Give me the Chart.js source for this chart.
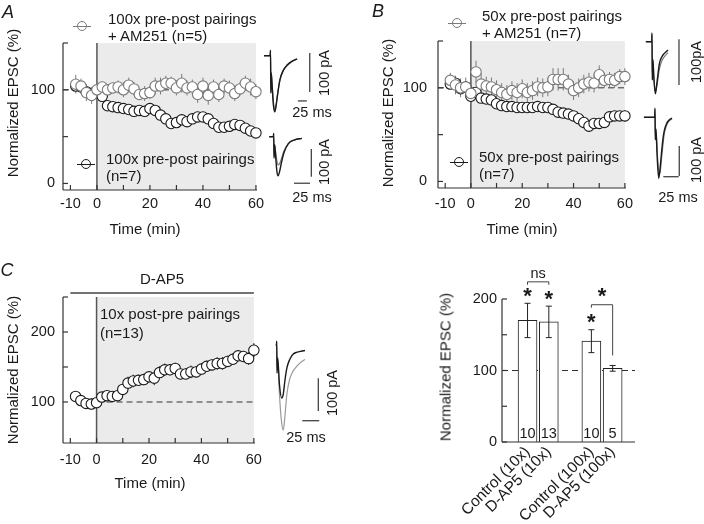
<!DOCTYPE html>
<html>
<head>
<meta charset="utf-8">
<script src="https://cdn.jsdelivr.net/npm/chart.js@4.4.1/dist/chart.umd.min.js"></script>
<style>
  body { margin: 0; background: #fff; }
  #fig { position: relative; width: 704px; height: 524px; overflow: hidden;
         font-family: 'Liberation Sans', Arial, sans-serif; color: #1a1a1a; }
  canvas { position: absolute; }
  .t { position: absolute; font-size: 15px; line-height: 1; white-space: nowrap; }
  .s { font-size: 14.5px; }
  .c { transform: translate(-50%, -50%); }
  .l { transform: translateY(-50%); }
  .v { transform: translate(-50%, -50%) rotate(-90deg); }
  .p { font-size: 18px; font-style: italic; }
  .mk { position: absolute; width: 8px; height: 8px; margin: -5px 0 0 -5px; border: 1px solid;
        border-radius: 50%; background: #fff; }
  .mk:before { content: ''; position: absolute; left: -5px; width: 18px; top: 3.5px; height: 1px; background: currentColor; }
</style>
</head>
<body>
<div id="fig">
  <canvas id="chA" width="270" height="250" style="left:0;top:0"></canvas>
  <canvas id="chB" width="290" height="250" style="left:350px;top:0"></canvas>
  <canvas id="chC" width="270" height="274" style="left:0;top:250px"></canvas>
  <canvas id="chBar" width="304" height="274" style="left:400px;top:250px"></canvas>
  <canvas id="trA1" width="80" height="90" style="left:262px;top:40px"></canvas>
  <canvas id="trA2" width="80" height="85" style="left:262px;top:125px"></canvas>
  <canvas id="trB1" width="68" height="75" style="left:636px;top:28px"></canvas>
  <canvas id="trB2" width="68" height="100" style="left:636px;top:100px"></canvas>
  <canvas id="trC" width="80" height="120" style="left:270px;top:330px"></canvas>

  <div class="t p c" style="left:8px;top:12px">A</div>
  <div class="t p c" style="left:378px;top:11px">B</div>
  <div class="t p c" style="left:7px;top:270px">C</div>

  <span class="mk" style="left:82px;top:26px;color:#7a7a7a"></span>
  <div class="t l" style="left:108px;top:18px">100x pre-post pairings</div>
  <div class="t l" style="left:108px;top:35px">+ AM251 (n=5)</div>
  <span class="mk" style="left:86px;top:164px;color:#1a1a1a"></span>
  <div class="t l" style="left:106px;top:158px">100x pre-post pairings</div>
  <div class="t l" style="left:106px;top:175px">(n=7)</div>

  <span class="mk" style="left:457px;top:23px;color:#7a7a7a"></span>
  <div class="t l" style="left:482px;top:15px">50x pre-post pairings</div>
  <div class="t l" style="left:482px;top:32px">+ AM251 (n=7)</div>
  <span class="mk" style="left:459px;top:162px;color:#1a1a1a"></span>
  <div class="t l" style="left:479px;top:156px">50x pre-post pairings</div>
  <div class="t l" style="left:479px;top:173px">(n=7)</div>

  <div class="t l" style="left:100px;top:313px">10x post-pre pairings</div>
  <div class="t l" style="left:100px;top:332px">(n=13)</div>
  <div class="t c" style="left:162px;top:278px">D-AP5</div>

  <div class="t v" style="left:12px;top:103px">Normalized EPSC (%)</div>
  <div class="t v" style="left:387px;top:113px">Normalized EPSC (%)</div>
  <div class="t v" style="left:12px;top:370px">Normalized EPSC (%)</div>
  <div class="t v" style="left:445px;top:367px">Normalized EPSC (%)</div>
  <div class="t c" style="left:145px;top:228px">Time (min)</div>
  <div class="t c" style="left:522px;top:228px">Time (min)</div>
  <div class="t c" style="left:150px;top:482px">Time (min)</div>

  <div class="t s v" style="left:324px;top:73px">100 pA</div>
  <div class="t s c" style="left:312px;top:112px">25 ms</div>
  <div class="t s v" style="left:324px;top:162px">100 pA</div>
  <div class="t s c" style="left:312px;top:197px">25 ms</div>
  <div class="t s v" style="left:696px;top:62px">100pA</div>
  <div class="t s v" style="left:696px;top:160px">100 pA</div>
  <div class="t s c" style="left:678px;top:197px">25 ms</div>
  <div class="t s v" style="left:332px;top:393px">100 pA</div>
  <div class="t s c" style="left:306px;top:437px">25 ms</div>
</div>

<script>
// time courses, one point every 2 min
const timeMin = [-8, -6, -4, -2, 0, 2, 4, 6, 8, 10, 12, 14, 16, 18, 20, 22, 24, 26, 28, 30,
                 32, 34, 36, 38, 40, 42, 44, 46, 48, 50, 52, 54, 56, 58, 60];

// A: 100x pre-post
const aAm251 = [106, 104, 97, 94, 100, 103, 100, 102, 103, 100, 105, 101, 95, 96, 97, 104, 104, 107, 107, 102,
                107, 102, 103, 95, 104, 94, 103, 95, 104, 102, 96, 101, 107, 103, 98];
const aAm251Err = [10, 8, 9, 9, 6, 6, 6, 5, 7, 8, 8, 7, 6, 8, 7, 9, 9, 8, 7, 8,
                   10, 8, 8, 9, 9, 10, 8, 8, 8, 8, 8, 7, 8, 9, 8];
const aCtrl = [104, 103, 98, 95, 97, 93, 83, 82, 81, 80, 79, 77, 78, 77, 80, 78, 73, 69, 64, 65,
               68, 66, 69, 71, 71, 69, 64, 60, 60, 61, 63, 62, 59, 56, 54];
const aCtrlErr = [4, 4, 4, 5, 4, 4, 3, 3, 3, 3, 3, 3, 3, 3, 3, 3, 4, 4, 4, 4,
                  4, 4, 4, 4, 4, 4, 4, 4, 4, 4, 4, 4, 4, 4, 4];

// B: 50x pre-post
const bAm251 = [108, 103, 100, 101, 94, 117, 104, 102, 101, 98, 95, 93, 97, 95, 99, 95, 97, 101, 100, 101,
                109, 109, 109, 104, 97, 100, 104, 106, 105, 114, 108, 109, 108, 112, 112];
const bAm251Err = [8, 10, 10, 10, 12, 12, 12, 10, 10, 10, 10, 10, 10, 10, 10, 10, 10, 10, 10, 10,
                   12, 12, 12, 10, 10, 10, 10, 10, 10, 10, 8, 8, 8, 8, 9];
const bCtrl = [104, 105, 99, 101, 91, 95, 89, 88, 87, 83, 81, 80, 80, 79, 79, 79, 79, 80, 79, 79,
               77, 74, 73, 72, 70, 67, 63, 59, 62, 62, 63, 69, 70, 70, 70];
const bCtrlErr = [5, 5, 5, 6, 6, 5, 5, 5, 5, 4, 4, 4, 4, 4, 4, 4, 4, 4, 4, 4,
                  4, 4, 4, 4, 4, 4, 4, 4, 4, 5, 5, 5, 5, 5, 6];

// C: 10x post-pre in D-AP5
const cVals = [108, 102, 98, 97, 99, 107, 109, 108, 109, 118, 127, 130, 131, 132, 136, 134, 142, 146, 146, 148,
               140, 140, 143, 143, 147, 151, 153, 155, 155, 158, 161, 166, 165, 162, 174];
const cErr = [5, 5, 7, 8, 6, 5, 6, 6, 6, 7, 9, 9, 8, 8, 8, 10, 9, 9, 8, 8,
              8, 8, 9, 8, 8, 8, 8, 9, 9, 8, 8, 8, 8, 9, 10];

// summary bars
const barGroups = [['Control (10x)', 'D-AP5 (10x)'], ['Control (100x)', 'D-AP5 (100x)']];
const barMeans = [170, 168, 141, 103];
const barErr = [24, 22, 16, 4];
const barN = [10, 13, 10, 5];
const barStars = [0, 1, 2];
const barComparisons = [{ a: 0, b: 1, text: 'ns', y: 224 }, { a: 2, b: 3, text: '*', y: 192 }];

// axis ticks
const xTicks = [-10, 0, 10, 20, 30, 40, 50, 60];
const xTickLabels = ['-10', '0', '', '20', '', '40', '', '60'];
const yTicksAB = [0, 50, 100, 150];
const yTickLabelsAB = ['0', '', '100', ''];
const yTicksC = [100, 150, 200, 250];
const yTickLabelsC = ['100', '', '200', ''];
const yTicksBar = [0, 50, 100, 150, 200];
const yTickLabelsBar = ['0', '', '100', '', '200'];

// example EPSC traces (ms, pA), pre = black, post = gray
const traceTimeA1 = [-18, -1, 0, 1, 2, 4, 8, 12, 15, 20, 26, 35, 46, 58, 74];
const traceA1Pre = [0, 0, 14, -96, -45, -70, -126, -144, -132, -98, -62, -38, -24, -15, -8];
const traceA1Post = [0, 0, 12, -90, -42, -66, -118, -138, -128, -96, -64, -40, -26, -16, -9];
const traceTimeA2 = [-7, -0.5, 0, 0.5, 1.5, 3, 5, 7, 9, 12, 16, 23, 32, 44];
const traceA2Pre = [0, 0, 12, -78, -30, -70, -125, -141, -128, -95, -58, -25, -12, -6];
const traceA2Post = [0, 0, 10, -70, -28, -55, -88, -102, -98, -80, -52, -24, -12, -6];
const traceTimeB1 = [-10, -0.5, 0, 0.5, 1.5, 3, 5.5, 8, 12, 16, 20.5, 26];
const traceB1Pre = [0, 0, 19, -84, -40, -80, -114, -90, -48, -33, -25, -18];
const traceB1Post = [0, 0, 15, -80, -38, -76, -110, -96, -60, -42, -32, -24];
const traceTimeB2 = [-18, -0.5, 0, 0.5, 1.5, 3.5, 6, 8, 10.5, 13, 15, 19, 23, 27.6];
const traceB2Pre = [0, 0, 30, -75, -40, -130, -203, -175, -120, -70, -45, -20, -9, -3];
const traceB2Post = [0, 0, 25, -70, -38, -110, -180, -187, -140, -90, -55, -26, -12, -5];
const traceTimeC = [-1.5, -0.3, 0, 0.5, 1.5, 4, 7.4, 9.7, 12, 15, 19, 24, 30, 36, 41.6];
const traceCPre = [0, 0, 12, -86, -40, -120, -162, -150, -110, -70, -45, -28, -22, -19, -17];
const traceCPost = [0, 0, 10, -80, -38, -150, -240, -260, -220, -150, -105, -80, -64, -52, -44];
const scaleBarPA = 100;
const scaleBarMs = 25;

const FONT = "'Liberation Sans', Arial, sans-serif";
Chart.defaults.font.family = FONT;
Chart.defaults.font.size = 14.5;
Chart.defaults.color = '#1a1a1a';
Chart.defaults.animation = false;
Chart.defaults.events = [];
Chart.defaults.plugins.legend.display = false;
Chart.defaults.plugins.tooltip.enabled = false;

const seg = (ctx, x0, y0, x1, y1) => {
  ctx.beginPath(); ctx.moveTo(x0, y0); ctx.lineTo(x1, y1); ctx.stroke();
};

const star = (ctx, x, y) => {
  ctx.save();
  ctx.font = 'bold 22px ' + FONT;
  ctx.textAlign = 'center';
  ctx.textBaseline = 'alphabetic';
  const m = ctx.measureText('*');
  ctx.fillText('*', x, y + (m.actualBoundingBoxAscent - m.actualBoundingBoxDescent) / 2);
  ctx.restore();
};

// shading, reference line, error bars, inward ticks
const decoPlugin = {
  id: 'deco',
  beforeDatasetsDraw(chart, args, o) {
    const { ctx, chartArea: a, scales: { x, y } } = chart;
    ctx.save();
    if (o.shade) {
      const x0 = x.getPixelForValue(o.shade[0]), x1 = x.getPixelForValue(o.shade[1]);
      ctx.fillStyle = '#ebebeb';
      ctx.fillRect(x0, a.top, x1 - x0, a.bottom - a.top);
      ctx.strokeStyle = '#555'; ctx.lineWidth = 1.5;
      seg(ctx, x0, a.top, x0, a.bottom);
    }
    if (o.ref !== undefined) {
      const py = y.getPixelForValue(o.ref);
      ctx.setLineDash([6, 4]); ctx.strokeStyle = '#333'; ctx.lineWidth = 1;
      seg(ctx, o.refFrom !== undefined ? x.getPixelForValue(o.refFrom) : a.left, py, a.right, py);
      ctx.setLineDash([]);
    }
    if (o.drug) {
      ctx.strokeStyle = '#444'; ctx.lineWidth = 1.5;
      seg(ctx, x.getPixelForValue(o.drug[0]), a.top - 4, x.getPixelForValue(o.drug[1]), a.top - 4);
    }
    chart.data.datasets.forEach((ds, i) => {
      if (!ds.err) return;
      ctx.strokeStyle = ds.pointBorderColor; ctx.lineWidth = 1;
      chart.getDatasetMeta(i).data.forEach((el, j) => {
        const v = ds.data[j].y, e = ds.err[j];
        seg(ctx, el.x, y.getPixelForValue(v + e), el.x, y.getPixelForValue(v - e));
      });
    });
    ctx.restore();
  },
  afterDraw(chart, args, o) {
    const { ctx, chartArea: a, scales: { x, y } } = chart;
    ctx.save();
    ctx.strokeStyle = '#333'; ctx.lineWidth = 1.2;
    seg(ctx, a.left, a.top, a.left, a.bottom);
    seg(ctx, a.left, a.bottom, a.right, a.bottom);
    if (!o.noXTicks) {
      x.ticks.forEach(t => { const px = x.getPixelForValue(t.value); seg(ctx, px, a.bottom, px, a.bottom - 5); });
    }
    y.ticks.forEach(t => { const py = y.getPixelForValue(t.value); seg(ctx, a.left, py, a.left + 5, py); });
    ctx.restore();
  }
};

const barDeco = {
  id: 'barDeco',
  afterDatasetsDraw(chart) {
    const { ctx, chartArea: a, scales: { y } } = chart;
    const bars = chart.getDatasetMeta(0).data;
    const errTop = j => y.getPixelForValue(barMeans[j] + barErr[j]);
    ctx.save();
    ctx.strokeStyle = '#222'; ctx.lineWidth = 1;
    bars.forEach((b, j) => {
      const t = errTop(j), bt = y.getPixelForValue(barMeans[j] - barErr[j]);
      seg(ctx, b.x, t, b.x, bt);
      seg(ctx, b.x - 3, t, b.x + 3, t);
      seg(ctx, b.x - 3, bt, b.x + 3, bt);
    });
    ctx.fillStyle = '#1a1a1a';
    ctx.font = '14.5px ' + FONT;
    ctx.textAlign = 'center'; ctx.textBaseline = 'middle';
    bars.forEach((b, j) => ctx.fillText(String(barN[j]), b.x, a.bottom - 8));
    barStars.forEach(j => star(ctx, bars[j].x, errTop(j) - 11));
    ctx.strokeStyle = '#444';
    barComparisons.forEach(c => {
      const xa = bars[c.a].x, xb = bars[c.b].x, py = y.getPixelForValue(c.y);
      const legB = barStars.includes(c.b) ? py + 3 : errTop(c.b) - 10;
      ctx.beginPath();
      ctx.moveTo(xa, py + 3); ctx.lineTo(xa, py); ctx.lineTo(xb, py); ctx.lineTo(xb, legB);
      ctx.stroke();
      if (c.text === '*') star(ctx, (xa + xb) / 2, py - 12);
      else ctx.fillText(c.text, (xa + xb) / 2, py - 8);
    });
    ctx.restore();
  }
};

const scaleBars = {
  id: 'scaleBars',
  afterDatasetsDraw(chart, args, o) {
    const { ctx, scales: { x, y } } = chart;
    ctx.save();
    ctx.strokeStyle = '#444'; ctx.lineWidth = 1.3;
    if (o.v) {
      const px = x.getPixelForValue(o.v[0]);
      seg(ctx, px, y.getPixelForValue(o.v[1]), px, y.getPixelForValue(o.v[1] - scaleBarPA));
    }
    if (o.h) {
      const py = y.getPixelForValue(o.h[1]);
      seg(ctx, x.getPixelForValue(o.h[0] - scaleBarMs), py, x.getPixelForValue(o.h[0]), py);
    }
    ctx.restore();
  }
};

const fixedTicks = (vals, labels, extra) => Object.assign({
  afterBuildTicks: s => { s.ticks = vals.map(v => ({ value: v })); },
  ticks: { callback: v => labels[vals.indexOf(v)], autoSkip: false, maxRotation: 0 },
  grid: { display: false, drawTicks: false },
  border: { display: false }
}, extra);

function timeCourse(id, geo, sets, yRange, yVals, yLabels, deco) {
  const xs = fixedTicks(xTicks, xTickLabels, { type: 'linear', min: -12.8, max: 60.4,
    afterFit: s => { s.height = geo.xh; } });
  xs.ticks.padding = geo.xpad;
  const ys = fixedTicks(yVals, yLabels, { type: 'linear', min: yRange[0], max: yRange[1],
    afterFit: s => { s.width = geo.yw; } });
  ys.ticks.padding = geo.ypad;
  return new Chart(document.getElementById(id), {
    type: 'line',
    data: {
      datasets: sets.map(s => ({
        data: timeMin.map((t, i) => ({ x: t, y: s.values[i] })),
        err: s.err,
        showLine: false,
        pointRadius: 5.2,
        pointHoverRadius: 5.2,
        pointBackgroundColor: '#fff',
        pointBorderColor: s.color,
        pointBorderWidth: 1.1,
        clip: false
      }))
    },
    options: {
      responsive: false,
      layout: { padding: { top: geo.top, right: geo.right, left: 0, bottom: 0 } },
      scales: { x: xs, y: ys },
      plugins: { deco }
    },
    plugins: [decoPlugin]
  });
}

const GRAY = '#7a7a7a', DARK = '#1a1a1a';

timeCourse('chA', { top: 43, right: 13, xh: 60, yw: 63, xpad: 5, ypad: 8 },
  [{ values: aAm251, err: aAm251Err, color: GRAY }, { values: aCtrl, err: aCtrlErr, color: DARK }],
  [-7, 150], yTicksAB, yTickLabelsAB, { shade: [0, 60], ref: 100 });

timeCourse('chB', { top: 41, right: 7, xh: 62, yw: 88, xpad: 7, ypad: 11 },
  [{ values: bAm251, err: bAm251Err, color: GRAY }, { values: bCtrl, err: bCtrlErr, color: DARK }],
  [-7, 150], yTicksAB, yTickLabelsAB, { shade: [0, 60], ref: 100 });

timeCourse('chC', { top: 47, right: 13, xh: 81, yw: 63, xpad: 8, ypad: 8 },
  [{ values: cVals, err: cErr, color: DARK }],
  [41.4, 250], yTicksC, yTickLabelsC, { shade: [0, 60], ref: 100, refFrom: 0, drug: [-10, 60] });

// summary bar chart, with an empty slot between the 10x and 100x pairs
const slotLabels = [];
barGroups.forEach((g, gi) => { if (gi) slotLabels.push(''); slotLabels.push(...g); });
const barSlots = slotLabels.map((l, i) => i).filter(i => slotLabels[i] !== '');

const barX = fixedTicks(barSlots, barSlots.map(i => slotLabels[i]), { type: 'linear', min: -1.2, max: 5.05,
  offset: false, afterFit: s => { s.height = 82; } });
Object.assign(barX.ticks, { minRotation: 45, maxRotation: 45, padding: 1, labelOffset: 0, font: { size: 15.5 } });
const barY = fixedTicks(yTicksBar, yTickLabelsBar, { type: 'linear', min: 0, max: 200,
  afterFit: s => { s.width = 102; } });
barY.ticks.padding = 5;

new Chart(document.getElementById('chBar'), {
  type: 'bar',
  data: {
    datasets: [{
      data: barSlots.map((s, j) => ({ x: s, y: barMeans[j] })),
      backgroundColor: '#fff',
      borderColor: '#222',
      borderWidth: 1,
      barThickness: 19
    }]
  },
  options: {
    responsive: false,
    layout: { padding: { top: 49, right: 69, left: 0, bottom: 0 } },
    scales: { x: barX, y: barY },
    plugins: { deco: { ref: 100, noXTicks: true } }
  },
  plugins: [decoPlugin, barDeco]
});

// EPSC insets: box geometry in page pixels, origin = pixel of (0 ms, 0 pA)
const insets = [
  { id: 'trA1', box: [262, 40, 80, 90], origin: [270.5, 55.7], pxMs: 0.36, pxPA: 0.39,
    t: traceTimeA1, pre: traceA1Pre, post: traceA1Post, v: [109, 7], h: [101, -116], postColor: '#666' },
  { id: 'trA2', box: [262, 125, 80, 85], origin: [273.7, 136.7], pxMs: 0.64, pxPA: 0.277,
    t: traceTimeA2, pre: traceA2Pre, post: traceA2Post, v: [58.8, -44.4], h: [56.7, -168], postColor: '#777' },
  { id: 'trB1', box: [636, 28, 68, 75], origin: [652, 41.7], pxMs: 0.616, pxPA: 0.457,
    t: traceTimeB1, pre: traceB1Pre, post: traceB1Post, v: [43.8, 5.3], h: null, postColor: '#777' },
  { id: 'trB2', box: [636, 100, 68, 100], origin: [655, 117.3], pxMs: 0.616, pxPA: 0.3,
    t: traceTimeB2, pre: traceB2Pre, post: traceB2Post, v: [39.4, -95.7], h: [38.5, -198], postColor: '#777' },
  { id: 'trC', box: [270, 330, 80, 120], origin: [276.7, 345], pxMs: 0.68, pxPA: 0.327,
    t: traceTimeC, pre: traceCPre, post: traceCPost, v: [61.2, -101.8], h: [62.6, -231.5], postColor: '#999' }
];

insets.forEach(ins => {
  const [left, top, w, h] = ins.box;
  const xMin = (left - ins.origin[0]) / ins.pxMs;
  const yMax = (ins.origin[1] - top) / ins.pxPA;
  const line = (vals, color, width) => ({
    data: ins.t.map((t, i) => ({ x: t, y: vals[i] })),
    borderColor: color, borderWidth: width, pointRadius: 0,
    cubicInterpolationMode: 'monotone', clip: false
  });
  new Chart(document.getElementById(ins.id), {
    type: 'line',
    data: { datasets: [line(ins.pre, '#1a1a1a', 1.4), line(ins.post, ins.postColor, 1.2)] },
    options: {
      responsive: false,
      layout: { padding: 0 },
      scales: {
        x: { type: 'linear', display: false, min: xMin, max: xMin + w / ins.pxMs },
        y: { type: 'linear', display: false, min: yMax - h / ins.pxPA, max: yMax }
      },
      plugins: { scaleBars: { v: ins.v, h: ins.h } }
    },
    plugins: [scaleBars]
  });
});
</script>
</body>
</html>
